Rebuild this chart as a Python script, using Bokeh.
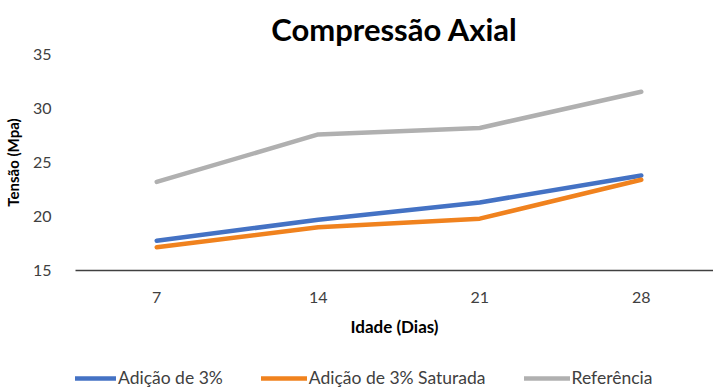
from bokeh.plotting import figure
from bokeh.layouts import column
from bokeh.models import Range1d, FixedTicker, Legend, LegendItem, Title
from bokeh.embed import file_html
from bokeh.resources import INLINE

dias = [7, 14, 21, 28]
adicao_3 = [17.75, 19.7, 21.3, 23.8]
adicao_3_saturada = [17.15, 19.0, 19.8, 23.4]
referencia = [23.2, 27.6, 28.2, 31.55]
y_ticks = [15, 20, 25, 30, 35]
series_names = ["Adição de 3%", "Adição de 3% Saturada", "Referência"]
series_colors = ["#4472C4", "#F0821E", "#B0B0B0"]

FONT = "Lato"

p = figure(width=713, height=350, output_backend="svg", toolbar_location=None,
           x_range=Range1d(3.48, 31.13), y_range=Range1d(15, 35),
           min_border_left=70, min_border_right=0, min_border_top=54,
           min_border_bottom=80)

p.title = Title(text="Compressão Axial", align="center", text_font=FONT,
                text_font_size="31px", text_font_style="bold", text_color="#000000",
                standoff=14, offset=0)

p.outline_line_color = None
p.xgrid.grid_line_color = None
p.ygrid.grid_line_color = None
p.background_fill_color = "white"
p.border_fill_color = "white"

p.xaxis.ticker = FixedTicker(ticks=dias)
p.yaxis.ticker = FixedTicker(ticks=y_ticks)
p.xaxis.axis_label = "Idade (Dias)"
p.yaxis.axis_label = "Tensão (Mpa)"
for ax in (p.xaxis[0], p.yaxis[0]):
    ax.major_tick_line_color = None
    ax.minor_tick_line_color = None
    ax.major_label_text_font = FONT
    ax.major_label_text_font_size = "16px"
    ax.major_label_text_color = "#404040"
    ax.axis_label_text_font = FONT
    ax.axis_label_text_font_style = "bold"
    ax.axis_label_text_color = "#000000"
p.xaxis.axis_label_text_font_size = "17px"
p.yaxis.axis_label_text_font_size = "15px"
p.yaxis.axis_line_color = None
p.xaxis.axis_line_color = "#404040"
p.xaxis.axis_line_width = 1.5
p.xaxis.major_label_standoff = 15
p.xaxis.axis_label_standoff = 10
p.yaxis.major_label_standoff = 18
p.yaxis.axis_label_standoff = 8

all_series = [adicao_3, adicao_3_saturada, referencia]
for vals, col in zip(all_series, series_colors):
    p.line(dias, vals, line_color=col, line_width=4.5, line_cap="round")

# legend strip below the chart (its lines lie outside its visible range)
lg = figure(width=713, height=38, output_backend="svg", toolbar_location=None,
            x_range=Range1d(0, 1), y_range=Range1d(0, 1),
            x_axis_type=None, y_axis_type=None,
            min_border_left=0, min_border_right=0, min_border_top=0, min_border_bottom=0)
lg.outline_line_color = None
lg.xgrid.grid_line_color = None
lg.ygrid.grid_line_color = None
lg.border_fill_color = "white"
items = []
for vals, col, name in zip(all_series, series_colors, series_names):
    r = lg.line(dias, vals, line_color=col, line_width=4.5, line_cap="round")
    items.append(LegendItem(label=name, renderers=[r]))

legend = Legend(items=items, orientation="horizontal", location=(-5, 0),
                border_line_color=None, background_fill_alpha=0,
                padding=0, margin=0, spacing=38, glyph_width=46, glyph_height=16,
                label_standoff=2, label_text_font=FONT, label_text_font_size="17.5px",
                label_text_color="#404040")
lg.add_layout(legend, "center")

layout = column(p, lg, spacing=0)
open("out.html", "w").write(file_html(layout, INLINE))
